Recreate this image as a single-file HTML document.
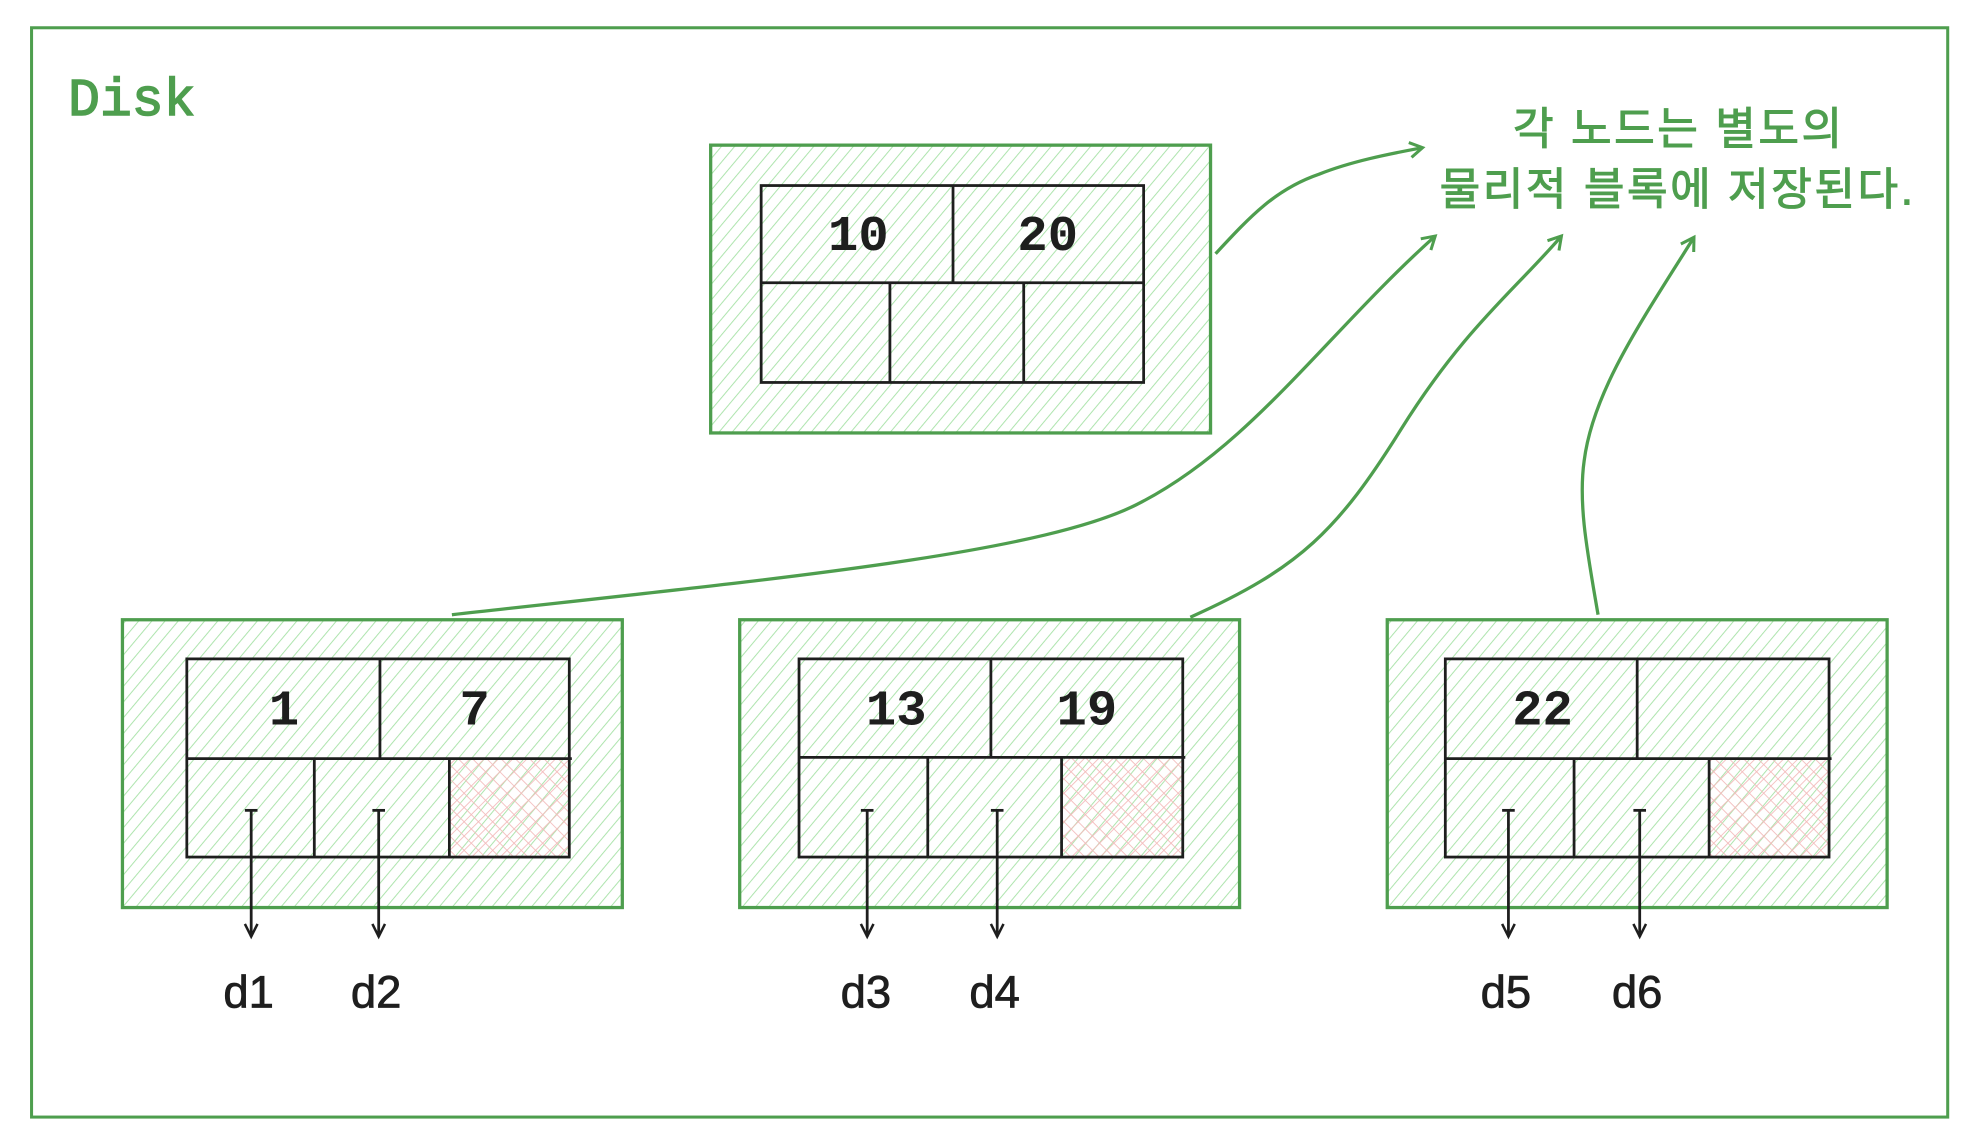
<!DOCTYPE html>
<html><head><meta charset="utf-8"><style>html,body{margin:0;padding:0;background:#fff}svg{display:block}</style></head>
<body>
<svg width="1978" height="1148" viewBox="0 0 1567 909.5" preserveAspectRatio="none" xmlns="http://www.w3.org/2000/svg">
<defs>
<pattern id="h" patternUnits="userSpaceOnUse" width="8" height="8" patternTransform="rotate(40)">
<line x1="0" y1="0" x2="0" y2="8" stroke="#aee4ae" stroke-width="1.6"/>
</pattern>
<pattern id="x" patternUnits="userSpaceOnUse" width="8" height="8" patternTransform="rotate(45)">
<line x1="0" y1="0" x2="0" y2="8" stroke="#f3bcbc" stroke-width="1.4"/>
<line x1="0" y1="0" x2="8" y2="0" stroke="#f3bcbc" stroke-width="1.4"/>
</pattern>
<marker id="ag" markerWidth="14" markerHeight="14" refX="11" refY="7" orient="auto" markerUnits="userSpaceOnUse"><path d="M1,1 L11,7 L1,13" fill="none" stroke="#4e9e4e" stroke-width="2.4"/></marker>
<marker id="ab" markerWidth="14" markerHeight="14" refX="7" refY="11" orient="0" markerUnits="userSpaceOnUse"><path d="M2,1 L7,11 L12,1" fill="none" stroke="#1e1e1e" stroke-width="2"/></marker>
</defs>
<rect x="25" y="22" width="1518" height="863" fill="none" stroke="#4e9e4e" stroke-width="2.4"/>
<text x="54" y="91" font-family="Liberation Mono, monospace" font-size="42" fill="#4e9e4e" stroke="#4e9e4e" stroke-width="1.2">Disk</text>

<g stroke="#4e9e4e" stroke-width="2.6">
<rect x="563" y="115" width="396" height="228" fill="url(#h)"/>
<rect x="97" y="491" width="396" height="228" fill="url(#h)"/>
<rect x="586" y="491" width="396" height="228" fill="url(#h)"/>
<rect x="1099" y="491" width="396" height="228" fill="url(#h)"/>
</g>

<g fill="none" stroke="#1e1e1e" stroke-width="2.2">
<rect x="603" y="147" width="303" height="156"/>
<line x1="603" y1="224" x2="906" y2="224"/><line x1="755" y1="147" x2="755" y2="224"/>
<line x1="705" y1="224" x2="705" y2="303"/><line x1="811" y1="224" x2="811" y2="303"/>
</g>
<rect x="356" y="601" width="95" height="78" fill="url(#x)"/>
<rect x="841" y="601" width="96" height="78" fill="url(#x)"/>
<rect x="1354" y="601" width="95" height="78" fill="url(#x)"/>
<g fill="none" stroke="#1e1e1e" stroke-width="2.2">
<rect x="148" y="522" width="303" height="157"/>
<line x1="148" y1="601" x2="453" y2="601"/><line x1="301" y1="522" x2="301" y2="601"/>
<line x1="249" y1="601" x2="249" y2="679"/><line x1="356" y1="601" x2="356" y2="679"/>
<rect x="633" y="522" width="304" height="157"/>
<line x1="633" y1="600" x2="939" y2="600"/><line x1="785" y1="522" x2="785" y2="600"/>
<line x1="735" y1="600" x2="735" y2="679"/><line x1="841" y1="600" x2="841" y2="679"/>
<rect x="1145" y="522" width="304" height="157"/>
<line x1="1145" y1="601" x2="1451" y2="601"/><line x1="1297" y1="522" x2="1297" y2="601"/>
<line x1="1247" y1="601" x2="1247" y2="679"/><line x1="1354" y1="601" x2="1354" y2="679"/>
</g>
<g font-family="Liberation Mono, monospace" font-size="40" font-weight="bold" fill="#1e1e1e" text-anchor="middle">
<text x="680" y="198">10</text><text x="830" y="198">20</text>
<text x="225" y="574">1</text><text x="376" y="574">7</text>
<text x="710" y="574">13</text><text x="861" y="574">19</text>
<text x="1222" y="574">22</text>
</g>
<g stroke="#1e1e1e" stroke-width="2.2" fill="none">
<path d="M199,642 L199,742" marker-end="url(#ab)"/><path d="M194,642 h10"/>
<path d="M300,642 L300,742" marker-end="url(#ab)"/><path d="M295,642 h10"/>
<path d="M687,642 L687,742" marker-end="url(#ab)"/><path d="M682,642 h10"/>
<path d="M790,642 L790,742" marker-end="url(#ab)"/><path d="M785,642 h10"/>
<path d="M1195,642 L1195,742" marker-end="url(#ab)"/><path d="M1190,642 h10"/>
<path d="M1299,642 L1299,742" marker-end="url(#ab)"/><path d="M1294,642 h10"/>
</g>
<g font-family="Liberation Sans, sans-serif" font-size="36" fill="#1e1e1e" text-anchor="middle" stroke="#1e1e1e" stroke-width="0.6">
<text x="197" y="798">d1</text><text x="298" y="798">d2</text>
<text x="686" y="798">d3</text><text x="788" y="798">d4</text>
<text x="1193" y="798">d5</text><text x="1297" y="798">d6</text>
</g>
<g fill="none" stroke="#4e9e4e" stroke-width="2.6">
<path d="M963,201 C990,172 1010,150 1045,138 C1070,128 1100,122 1127,117" marker-end="url(#ag)"/>
<path d="M358,487 C600,460 820,440 900,400 C990,355 1050,265 1137,187" marker-end="url(#ag)"/>
<path d="M943,489 C1030,450 1060,420 1110,340 C1160,260 1200,230 1237,187" marker-end="url(#ag)"/>
<path d="M1266,487 C1258,440 1250,400 1255,365 C1262,310 1300,255 1342,188" marker-end="url(#ag)"/>
</g>
<g font-family="Liberation Sans, 'Noto Sans CJK KR', sans-serif" font-size="35" fill="#4e9e4e" text-anchor="middle" stroke="#4e9e4e" stroke-width="0.8" letter-spacing="2">
<text x="1330" y="114">각 노드는 별도의</text>
<text x="1329" y="162">물리적 블록에 저장된다.</text>
</g>
</svg>
</body></html>
